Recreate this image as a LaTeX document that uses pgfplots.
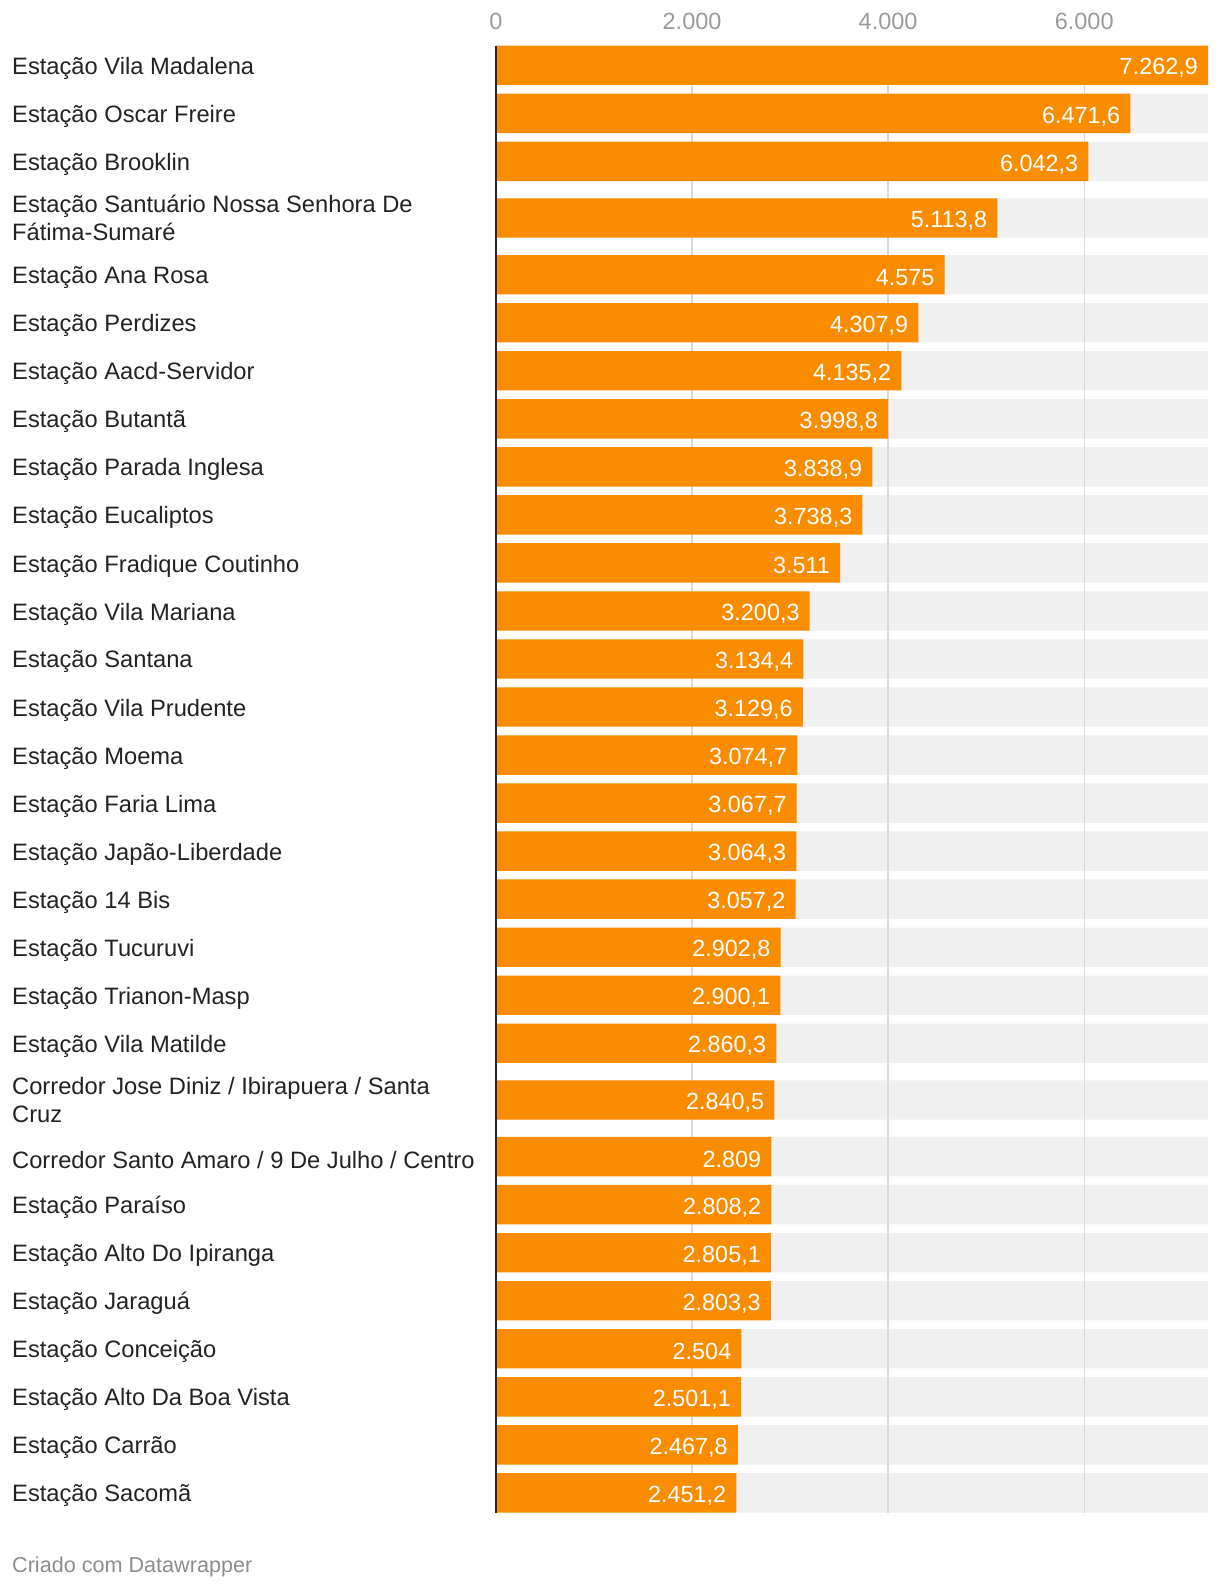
\documentclass[border=0pt]{standalone}
\usepackage{fontspec}
\setmainfont{Liberation Sans}
\usepackage{pgfplots}
\usepackage{pgfplotstable}
\pgfplotsset{compat=1.18}

\definecolor{barorange}{HTML}{FA8C00}
\definecolor{bggray}{HTML}{F0F0F0}
\definecolor{gridgray}{HTML}{D9D9D9}
\definecolor{labeltext}{HTML}{222222}
\definecolor{ticktext}{HTML}{9A9A9A}
\definecolor{footgray}{HTML}{8C8C8C}

% pos = row position (two-line rows take a bit more room), full = bar background
\pgfplotstableread{
pos   val     full
0     7262.9  7262.9
1     6471.6  7262.9
2     6042.3  7262.9
3.18  5113.8  7262.9
4.36  4575    7262.9
5.36  4307.9  7262.9
6.36  4135.2  7262.9
7.36  3998.8  7262.9
8.36  3838.9  7262.9
9.36  3738.3  7262.9
10.36 3511    7262.9
11.36 3200.3  7262.9
12.36 3134.4  7262.9
13.36 3129.6  7262.9
14.36 3074.7  7262.9
15.36 3067.7  7262.9
16.36 3064.3  7262.9
17.36 3057.2  7262.9
18.36 2902.8  7262.9
19.36 2900.1  7262.9
20.36 2860.3  7262.9
21.54 2840.5  7262.9
22.72 2809    7262.9
23.72 2808.2  7262.9
24.72 2805.1  7262.9
25.72 2803.3  7262.9
26.72 2504    7262.9
27.72 2501.1  7262.9
28.72 2467.8  7262.9
29.72 2451.2  7262.9
}\stations

\begin{document}
\begin{tikzpicture}
\useasboundingbox (0,0) rectangle (1220pt,1590pt);
\begin{axis}[
    at={(496pt,1544.4pt)}, anchor=north west,
    width=712pt, height=1467pt, scale only axis,
    xmin=0, xmax=7262.9,
    ymin=-0.41, ymax=30.13, y dir=reverse,
    clip=false,
    axis line style={draw=none},
    major tick length=0pt,
    scaled x ticks=false,
    xtick={0,2000,4000,6000},
    xticklabel pos=upper,
    /pgf/number format/.cd, use comma, 1000 sep={.}, assume math mode=true,
    /pgfplots/.cd,
    xticklabel style={anchor=south, inner sep=0pt, yshift=16pt, text=ticktext,
        font=\fontsize{23.5}{28}\selectfont},
    % two-line labels sit a touch higher than their bars' centres
    ytick={0,1,2,3.12,4.36,5.36,6.36,7.36,8.36,9.36,10.36,11.36,12.36,13.36,14.36,
        15.36,16.36,17.36,18.36,19.36,20.36,21.48,22.72,23.72,24.72,25.72,26.72,
        27.72,28.72,29.72},
    yticklabels={
        {Estação Vila Madalena},
        {Estação Oscar Freire},
        {Estação Brooklin},
        {Estação Santuário Nossa Senhora De\\Fátima-Sumaré},
        {Estação Ana Rosa},
        {Estação Perdizes},
        {Estação Aacd-Servidor},
        {Estação Butantã},
        {Estação Parada Inglesa},
        {Estação Eucaliptos},
        {Estação Fradique Coutinho},
        {Estação Vila Mariana},
        {Estação Santana},
        {Estação Vila Prudente},
        {Estação Moema},
        {Estação Faria Lima},
        {Estação Japão-Liberdade},
        {Estação 14 Bis},
        {Estação Tucuruvi},
        {Estação Trianon-Masp},
        {Estação Vila Matilde},
        {Corredor Jose Diniz / Ibirapuera / Santa\\Cruz},
        {Corredor Santo Amaro / 9 De Julho / Centro},
        {Estação Paraíso},
        {Estação Alto Do Ipiranga},
        {Estação Jaraguá},
        {Estação Conceição},
        {Estação Alto Da Boa Vista},
        {Estação Carrão},
        {Estação Sacomã}},
    yticklabel style={anchor=west, xshift=-484pt, yshift=-3pt, inner sep=0pt, align=left,
        text=labeltext, font=\fontsize{23.7}{28.4}\selectfont},
]
% grey background bars
\addplot[xbar, bar width=0.82, bar shift=0pt, draw=none, fill=bggray, forget plot]
    table[x=full, y=pos] {\stations};
% grid lines
\addplot[gridgray, line width=1.3pt, sharp plot, forget plot] coordinates {(2000,-0.41) (2000,30.13)};
\addplot[gridgray, line width=1.3pt, sharp plot, forget plot] coordinates {(4000,-0.41) (4000,30.13)};
\addplot[gridgray, line width=1.3pt, sharp plot, forget plot] coordinates {(6000,-0.41) (6000,30.13)};
% values
\addplot[xbar, bar width=0.82, bar shift=0pt, draw=none, fill=barorange,
    point meta=x,
    nodes near coords={\pgfmathprintnumber[fixed, precision=1]{\pgfplotspointmeta}},
    nodes near coords style={anchor=east, xshift=-10pt, yshift=-3pt, inner sep=0pt, text=white,
        font=\fontsize{23.4}{28}\selectfont}]
    table[x=val, y=pos] {\stations};
% zero line
\addplot[black!85, line width=2pt, sharp plot, forget plot] coordinates {(0,-0.41) (0,30.13)};
\end{axis}
\node[anchor=west, inner sep=0pt, text=footgray, font=\fontsize{21.6}{26}\selectfont]
    at (12pt,23pt) {Criado com Datawrapper};
\end{tikzpicture}
\end{document}
